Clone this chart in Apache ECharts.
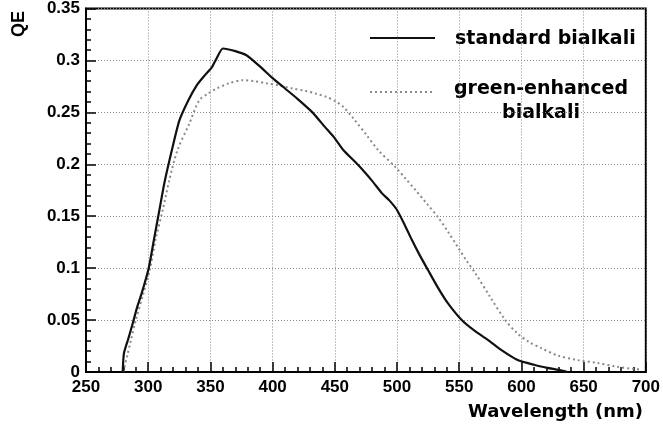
<!DOCTYPE html>
<html>
<head>
<meta charset="utf-8">
<script src="https://cdn.jsdelivr.net/npm/echarts@6/dist/echarts.min.js"></script>
<style>
  html, body { margin: 0; padding: 0; background: #fff; }
  #chart { width: 663px; height: 428px; }
</style>
</head>
<body>
<div id="chart"></div>
<script>
// Photocathode quantum efficiency versus wavelength for two bialkali types.
const seriesNames = ['standard bialkali', 'green-enhanced\nbialkali'];

// Wavelength (nm) and QE samples, standard bialkali
const stdWavelength = [279.5, 280.5, 284, 287.6, 291, 294.8, 300.4, 305, 309, 313, 319, 325, 332, 339, 345, 351, 355, 360,
  370, 379, 390, 400, 410, 420, 432, 442, 450, 457, 469, 480, 488, 494, 500, 506, 512, 518, 525, 533, 541, 552,
  562, 573, 584, 597, 610, 621, 630, 637];
const stdQE = [0, 0.018, 0.032, 0.047, 0.062, 0.076, 0.1, 0.13, 0.156, 0.182, 0.2135, 0.242, 0.261, 0.276, 0.285, 0.293, 0.302, 0.3115,
  0.309, 0.305, 0.294, 0.283, 0.273, 0.263, 0.25, 0.236, 0.225, 0.2135, 0.199, 0.184, 0.172, 0.165, 0.156, 0.142, 0.127, 0.113, 0.098, 0.081, 0.066, 0.05,
  0.04, 0.031, 0.021, 0.0115, 0.007, 0.004, 0.002, 0];

// Wavelength (nm) and QE samples, green-enhanced bialkali
const greenWavelength = [280, 283, 286, 290, 296, 301.6, 306, 311.7, 317, 323.5, 333, 341, 348, 355, 365, 376, 385, 395,
  405, 416, 425, 435, 443, 450, 457, 465, 475, 485, 499, 507, 515, 524, 533, 541, 549, 556, 563, 575, 587, 596,
  606, 616, 629, 645, 661, 677, 690, 697];
const greenQE = [0, 0.015, 0.03, 0.05, 0.075, 0.1, 0.128, 0.156, 0.185, 0.2135, 0.239, 0.2615, 0.268, 0.273, 0.278, 0.281, 0.28, 0.278,
  0.276, 0.273, 0.271, 0.268, 0.265, 0.261, 0.255, 0.244, 0.229, 0.2135, 0.197, 0.186, 0.175, 0.162, 0.149, 0.135, 0.12, 0.107, 0.095, 0.072, 0.05, 0.038,
  0.029, 0.023, 0.016, 0.0115, 0.0087, 0.005, 0.003, 0.002];

const xTitle = 'Wavelength (nm)';
const yTitle = 'QE';

const pair = (xs, ys) => xs.map((x, i) => [x, ys[i]]);

const tickFont = { fontFamily: '"Liberation Sans", Arial, sans-serif', fontWeight: 'bold', fontSize: 17, color: '#000' };
const gridLine = { show: true, lineStyle: { color: '#888', width: 1, type: [1, 2] } };

const chart = echarts.init(document.getElementById('chart'), null, { renderer: 'canvas' });
chart.setOption({
  animation: false,
  backgroundColor: '#fff',
  grid: { left: 86, top: 8, right: 16, bottom: 56, show: true, borderColor: '#000', borderWidth: 2, backgroundColor: 'transparent' },
  xAxis: {
    type: 'value', min: 250, max: 700, interval: 50,
    axisLine: { show: true, onZero: false, lineStyle: { color: '#000', width: 2 } },
    axisTick: { show: true, inside: true, length: 10, lineStyle: { color: '#000', width: 1.5 } },
    minorTick: { show: true, splitNumber: 5, length: 5, lineStyle: { color: '#000', width: 1.5 } },
    axisLabel: Object.assign({ margin: 7 }, tickFont),
    splitLine: gridLine
  },
  yAxis: {
    type: 'value', min: 0, max: 0.35, interval: 0.05,
    axisLine: { show: true, onZero: false, lineStyle: { color: '#000', width: 2 } },
    axisTick: { show: true, inside: true, length: 10, lineStyle: { color: '#000', width: 1.5 } },
    minorTick: { show: true, splitNumber: 5, length: 5, lineStyle: { color: '#000', width: 1.5 } },
    axisLabel: Object.assign({ margin: 6 }, tickFont),
    splitLine: gridLine
  },
  series: [
    {
      name: seriesNames[0], type: 'line', data: pair(stdWavelength, stdQE),
      showSymbol: false, smooth: 0.2, z: 3,
      lineStyle: { color: '#111', width: 2.2 }
    },
    {
      name: seriesNames[1], type: 'line', data: pair(greenWavelength, greenQE),
      showSymbol: false, smooth: 0.3, z: 2,
      lineStyle: { color: '#8a8a8a', width: 2, type: [2, 3] }
    }
  ],
  graphic: [
    // legend samples and labels
    { type: 'line', shape: { x1: 370, y1: 38, x2: 435, y2: 38 }, style: { stroke: '#111', lineWidth: 2.2 } },
    { type: 'text', x: 455, y: 39, style: { text: seriesNames[0], textAlign: 'left', textVerticalAlign: 'middle',
      font: 'bold 19px "DejaVu Sans", sans-serif', fill: '#000' } },
    { type: 'line', shape: { x1: 370, y1: 92, x2: 432, y2: 92 }, style: { stroke: '#8a8a8a', lineWidth: 2, lineDash: [2, 3] } },
    { type: 'text', x: 541, y: 101, style: { text: seriesNames[1], textAlign: 'center', textVerticalAlign: 'middle',
      lineHeight: 24, font: 'bold 19px "DejaVu Sans", sans-serif', fill: '#000' } },
    // axis titles
    { type: 'text', x: 643, y: 412, style: { text: xTitle, textAlign: 'right', textVerticalAlign: 'middle',
      font: 'bold 18px "DejaVu Sans", sans-serif', fill: '#000' } },
    { type: 'text', x: 19, y: 24, rotation: Math.PI / 2, style: { text: yTitle, textAlign: 'center', textVerticalAlign: 'middle',
      font: 'bold 18px "Liberation Sans", Arial, sans-serif', fill: '#000' } }
  ]
});
</script>
</body>
</html>
